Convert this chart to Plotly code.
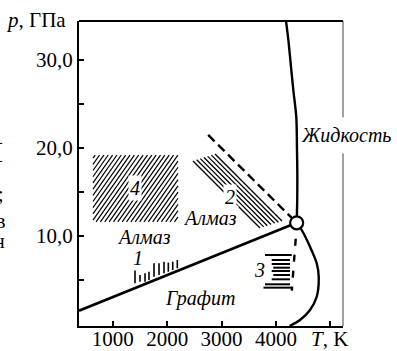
import plotly.graph_objects as go

# ---------------- data (T in K, p in GPa) ----------------
# graphite / diamond equilibrium line
gd_T = [381, 4380]
gd_p = [1.51, 11.5]
# diamond / liquid melting line
melt_T = [4380, 4390, 4392, 4386, 4373, 4318, 4276, 4227, 4184]
melt_p = [11.5, 14.0, 17.0, 19.8, 23.5, 26.6, 29.2, 32.3, 34.43]
# graphite / liquid melting line
gl_T = [4380, 4472, 4625, 4748, 4785, 4748, 4625, 4441, 4250]
gl_p = [11.5, 10.68, 8.78, 6.9, 5.38, 3.1, 1.59, 0.45, -0.23]
# metastable extensions (dashed)
dash1_T = [2754, 4380]
dash1_p = [21.48, 11.5]
dash2_T = [4385, 4290]
dash2_p = [11.5, 3.8]
# triple point
tp_T = [4380]
tp_p = [11.5]

# region 1: short vertical strokes
r1_T = [1410, 1502, 1594, 1667, 1759, 1851, 1943, 2022, 2103, 2187]
r1_top = [6.14, 5.57, 5.76, 5.94, 6.90, 6.90, 7.08, 6.97, 7.08, 7.27]
r1_bot = [4.63, 4.81, 4.81, 5.00, 5.38, 5.57, 5.76, 5.94, 6.14, 6.33]

# region 2: oblique strokes
r2_T0 = [2880, 2812, 2745, 2678, 2610, 2543, 2475]
r2_p0 = [19.32, 19.19, 19.05, 18.92, 18.79, 18.66, 18.52]
r2_T1 = [4110, 4043, 3976, 3908, 3841, 3774, 3706]
r2_p1 = [11.70, 11.57, 11.44, 11.31, 11.17, 11.04, 10.91]

# region 3: horizontal strokes
r3_p = [7.84, 7.27, 6.82, 6.40, 6.02, 5.57, 5.08, 4.51, 4.13]
r3_T0 = [3798, 3921, 3921, 3950, 3921, 3950, 3921, 3798, 3770]
r3_T1 = [4289, 4257, 4257, 4257, 4257, 4257, 4257, 4257, 4289]

# region 4: hatched rectangle
r4_T = [638, 2200]
r4_p = [11.6, 19.2]

# axis ranges / ticks
x_range = [381, 5231]
y_range = [-0.227, 34.43]
x_ticks = [1000, 2000, 3000, 4000, 5000]
x_ticktext = ["1000", "2000", "3000", "4000", ""]
y_ticks = [5, 10, 15, 20, 25, 30]
y_ticktext = ["", "10,0", "", "20,0", "", "30,0"]

# labels inside the plot (text, T, p)
labels = [
    ("<i>Алмаз</i>", 1579, 9.9),
    ("<i>Алмаз</i>", 2793, 12.1),
    ("<i>Графит</i>", 2604, 2.95),
    ("<i>1</i>", 1471, 7.47),
    ("<i>2</i>", 3155, 14.47),
    ("<i>3</i>", 3706, 6.14),
    ("<i>4</i>", 1404, 15.4),
]
liquid_label = ("<i>Жидкость</i>", 5295, 21.48)

FONT = "Liberation Serif"
W, H = 397, 351
ML, MR, MT, MB = 79, 54, 21, 25
PW = W - ML - MR
PH = H - MT - MB


def seg_trace(xs0, ys0, xs1, ys1, width):
    xs, ys = [], []
    for a, b, c, d in zip(xs0, ys0, xs1, ys1):
        xs += [a, c, None]
        ys += [b, d, None]
    return go.Scatter(x=xs, y=ys, mode="lines", line=dict(color="black", width=width),
                      hoverinfo="skip", showlegend=False)


def hatch(t0, t1, p0, p1, step, dpdT):
    xs, ys = [], []
    span = (p1 - p0) / dpdT
    c = t0 - span + step * 0.5
    while c < t1:
        lo = max(c, t0)
        hi = min(c + span, t1)
        if hi > lo:
            xs += [lo, hi, None]
            ys += [p0 + dpdT * (lo - c), p0 + dpdT * (hi - c), None]
        c += step
    return xs, ys


fig = go.Figure()

# region 4 hatch
hx, hy = hatch(r4_T[0], r4_T[1], r4_p[0], r4_p[1], 80, 0.0088)
fig.add_trace(go.Scatter(x=hx, y=hy, mode="lines", line=dict(color="black", width=1.2),
                         hoverinfo="skip", showlegend=False))
# region 2
fig.add_trace(seg_trace(r2_T0, r2_p0, r2_T1, r2_p1, 1.3))
# region 1
fig.add_trace(seg_trace(r1_T, r1_bot, r1_T, r1_top, 1.6))
# region 3
fig.add_trace(seg_trace(r3_T0, r3_p, r3_T1, r3_p, 2.0))

# dashed lines
fig.add_trace(go.Scatter(x=dash1_T, y=dash1_p, mode="lines",
                         line=dict(color="black", width=2.4, dash="9px,5px"),
                         hoverinfo="skip", showlegend=False))
fig.add_trace(go.Scatter(x=dash2_T, y=dash2_p, mode="lines",
                         line=dict(color="black", width=2.4, dash="7px,9px"),
                         hoverinfo="skip", showlegend=False))
# phase boundaries
fig.add_trace(go.Scatter(x=gd_T, y=gd_p, mode="lines", line=dict(color="black", width=2.6),
                         hoverinfo="skip", showlegend=False))
fig.add_trace(go.Scatter(x=melt_T, y=melt_p, mode="lines",
                         line=dict(color="black", width=2.4, shape="spline", smoothing=0.8),
                         hoverinfo="skip", showlegend=False))
fig.add_trace(go.Scatter(x=gl_T, y=gl_p, mode="lines",
                         line=dict(color="black", width=2.4, shape="spline", smoothing=0.8),
                         hoverinfo="skip", showlegend=False))
# triple point
fig.add_trace(go.Scatter(x=tp_T, y=tp_p, mode="markers",
                         marker=dict(size=13, color="white", line=dict(color="black", width=2.2)),
                         hoverinfo="skip", showlegend=False, cliponaxis=False))

for txt, tx, ty in labels:
    fig.add_annotation(x=tx, y=ty, xref="x", yref="y", text=txt, showarrow=False,
                       xanchor="center", yanchor="middle",
                       font=dict(family=FONT, size=20, color="black"),
                       bgcolor="white", borderpad=1)

# "Жидкость" sits across the right frame: place in paper x (beyond the x range)
lt, lx, ly = liquid_label
fig.add_annotation(x=(lx - x_range[0]) / (x_range[1] - x_range[0]), y=ly, xref="paper", yref="y",
                   xanchor="center", yanchor="middle",
                   text=lt, showarrow=False, font=dict(family=FONT, size=20, color="black"),
                   bgcolor="white", borderpad=1)

# axis titles
fig.add_annotation(x=(68 - ML) / PW, y=(H - MB - 20) / PH, xref="paper", yref="paper",
                   xanchor="right", yanchor="middle", text="<i>p</i>, ГПа", showarrow=False,
                   font=dict(family=FONT, size=21, color="black"))
fig.add_annotation(x=(329 - ML) / PW, y=(H - MB - 339) / PH, xref="paper", yref="paper",
                   xanchor="center", yanchor="middle", text="<i>T</i>, K", showarrow=False,
                   font=dict(family=FONT, size=21, color="black"))

# cropped text fragments at left page edge
for txt, yy, xr in [("–", 142, 5), ("–", 160, 5), (";", 194, 6), ("в", 221, 7), ("н", 241, 7)]:
    fig.add_annotation(x=(xr - ML) / PW, y=(H - MB - yy) / PH, xref="paper", yref="paper",
                       xanchor="right", yanchor="middle", text=txt, showarrow=False,
                       font=dict(family=FONT, size=20, color="black"))

# frame: top thick, right thin with gap for "Жидкость"
fig.add_shape(type="line", xref="paper", yref="paper", x0=0, x1=1, y0=1, y1=1,
              line=dict(color="black", width=2))
gap_lo, gap_hi = ly - 2.1, ly + 2.0
fig.add_shape(type="line", xref="paper", yref="y", x0=1, x1=1, y0=y_range[0], y1=gap_lo,
              line=dict(color="#444", width=1))
fig.add_shape(type="line", xref="paper", yref="y", x0=1, x1=1, y0=gap_hi, y1=y_range[1],
              line=dict(color="#444", width=1))

fig.update_xaxes(range=x_range, showgrid=False, zeroline=False, showline=True, automargin=False,
                 linecolor="black", linewidth=2, ticks="inside", ticklen=5, tickwidth=1.5,
                 tickcolor="black", tickvals=x_ticks, ticktext=x_ticktext, ticklabelstandoff=-7,
                 tickfont=dict(family=FONT, size=21, color="black"))
fig.update_yaxes(range=y_range, showgrid=False, zeroline=False, showline=True, automargin=False,
                 linecolor="black", linewidth=2, ticks="inside", ticklen=5, tickwidth=1.5,
                 tickcolor="black", tickvals=y_ticks, ticktext=y_ticktext,
                 tickfont=dict(family=FONT, size=21, color="black"))

fig.update_layout(width=W, height=H, margin=dict(l=ML, r=MR, t=MT, b=MB),
                  paper_bgcolor="white", plot_bgcolor="white", showlegend=False)

fig.write_html("out.html")
